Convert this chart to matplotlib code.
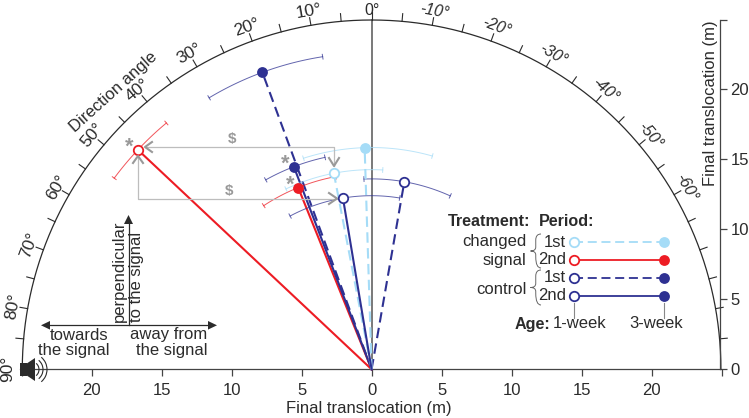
import numpy as np
import matplotlib
matplotlib.use("Agg")
import matplotlib.pyplot as plt
from matplotlib.path import Path
from matplotlib.patches import PathPatch, Polygon, Rectangle, Arc

plt.rcParams['font.family'] = ['Liberation Sans', 'DejaVu Sans']
INK = '#2b2b2b'
GRAY = '#bdbdbd'
MID = '#999999'
LIGHT = '#a5dcf7'
RED = '#ed1c24'
NAVY = '#2e3192'

# Data: direction angle (deg, positive = towards the signal), final translocation (m), arc limits
names = ['c1_3w', 'c1_1w', 's2_1w', 's2_3w', 'c2_3w', 's1_1w', 's1_3w', 'c2_1w']
angles = [20.2, -9.9, 46.8, 22.0, 21.0, 10.9, 1.8, 9.5]
dists = [22.6, 13.6, 22.9, 14.0, 15.5, 14.26, 15.84, 12.4]
arc_hi = [30.9, 2.3, 53.4, 33.4, 29.2, 25.4, 17.9, 28.0]
arc_lo = [8.9, -24.4, 39.8, 10.5, 12.4, -3.2, -15.9, -9.3]
colors = [NAVY, NAVY, RED, RED, NAVY, LIGHT, LIGHT, NAVY]
dashed = [True, True, False, False, False, True, True, False]
filled = [True, False, False, True, True, False, True, False]

deg_labels = [90, 80, 70, 60, 50, 40, 30, 20, 10, 0, -10, -20, -30, -40, -50, -60]
x_ticks = [-25, -20, -15, -10, -5, 0, 5, 10, 15, 20, 25]
x_labels = ['', '20', '15', '10', '5', '0', '5', '10', '15', '20', '']
y_ticks = [0, 5, 10, 15, 20, 24.95]
y_labels = ['0', '5', '10', '15', '20', '']

W, H = 749, 418
X0, Y0, S = 371.6, 369.3, 14.0
R = 24.95

fig = plt.figure(figsize=(W / 100, H / 100), dpi=100)
ax = fig.add_axes([0, 0, 1, 1])
ax.set_xlim(-X0 / S, (W - X0) / S)
ax.set_ylim((Y0 - H) / S, Y0 / S)
ax.patch.set_alpha(0)

def pol(a, r):
    a = np.radians(a)
    return -r * np.sin(a), r * np.cos(a)

# axes
for s in ['top', 'left']:
    ax.spines[s].set_visible(False)
ax.spines['bottom'].set_position(('data', 0))
ax.spines['bottom'].set_bounds(-25.1, 24.9)
ax.spines['right'].set_position(('data', 24.9))
ax.spines['right'].set_bounds(0, 24.95)
for s in ['bottom', 'right']:
    ax.spines[s].set_color('#444444')
    ax.spines[s].set_linewidth(0.9)
ax.set_xticks(x_ticks, x_labels)
ax.yaxis.tick_right()
ax.set_yticks(y_ticks, y_labels)
ax.tick_params(axis='x', direction='out', length=5, width=0.9, color='#444444', pad=5,
               labelsize=12, labelcolor=INK)
ax.tick_params(axis='y', direction='out', length=5, width=0.9, color='#444444', pad=2.5,
               labelsize=12, labelcolor=INK)
ax.plot([0, 0], [0, R], color='#555555', lw=1.1, zorder=1)

# outer arc and angle ticks
t = np.linspace(-90, 90, 361)
ax.plot(*pol(t, R), color=INK, lw=0.9, zorder=2)
for a in range(-85, 90, 5):
    ax.plot(*pol(np.array([a, a]), np.array([R, R + 0.55])), color=INK, lw=0.8, zorder=2)
for a in deg_labels:
    x, y = pol(a, 25.6 if a == 0 else 26.0)
    ax.text(x, y, f'{a}°', rotation=a, rotation_mode='anchor', ha='center', va='center',
            fontsize=11.5 if a <= 0 else 12.5, color=INK, style='italic' if a < 0 else 'normal')

# data
for n, a, r, hi, lo, c, d, f in zip(names, angles, dists, arc_hi, arc_lo, colors, dashed, filled):
    ax.plot(*pol(np.array([0, a]), np.array([0, r])), color=c, lw=1.5,
            ls=(0, (5, 2.6)) if d else '-', zorder=3)
    tt = np.linspace(lo, hi, 60)
    ax.plot(*pol(tt, r), color=c, lw=0.7, alpha=0.75, zorder=3)
    for e in (lo, hi):
        ax.plot(*pol(np.array([e, e]), np.array([r - 0.17, r + 0.17])), color=c, lw=0.7,
                alpha=0.75, zorder=3)
for a, r, c, f in zip(angles, dists, colors, filled):
    x, y = pol(a, r)
    ax.plot([x], [y], 'o', ms=7.8 if f else 6.8, mfc=c if f else 'white', mec=c,
            mew=0 if f else 1.3, zorder=5)

# pixel overlay for the annotations
ov = fig.add_axes([0, 0, 1, 1])
ov.set_xlim(0, W)
ov.set_ylim(H, 0)
ov.axis('off')
ov.patch.set_alpha(0)

def txt(x, y, s, ha='center', va='center', fs=12, **k):
    k.setdefault('color', INK)
    ov.text(x, y, s, ha=ha, va=va, fontsize=fs, **k)

ov.text(113, 92, 'Direction angle', rotation=42, rotation_mode='anchor', ha='center', va='center',
        fontsize=12, color=INK)
ov.text(710, 103, 'Final translocation (m)', rotation=90, ha='center', va='center', fontsize=12, color=INK)
txt(369, 409, 'Final translocation (m)')

# significance brackets
ov.plot([145, 334, 334], [146.5, 146.5, 166], color=GRAY, lw=0.9, zorder=1)
ov.plot([138, 138, 336], [156, 198.5, 198.5], color=GRAY, lw=0.9, zorder=1)
for xs, ys in [([152, 145, 152], [142, 147, 152]), ([329, 334, 339], [158, 166, 158]),
               ([133, 138, 143], [163, 156, 163]), ([329, 337, 329], [193, 198.5, 204])]:
    ov.plot(xs, ys, color=MID, lw=1.5, zorder=1)
for x, y in [(232, 138.5), (229, 190.5)]:
    txt(x, y, '$', fs=11, color=MID, fontweight='bold')
for x, y in [(129, 147), (285, 164), (290, 185)]:
    txt(x, y, '*', fs=15.5, color=MID, fontweight='bold')

# direction cross
ov.plot([46, 212], [325.3, 325.3], color=INK, lw=0.9)
ov.plot([128.5, 128.5], [325.3, 220], color=INK, lw=0.9)
ov.add_patch(Polygon([[41, 325.3], [50, 321], [50, 329.6]], color=INK, lw=0))
ov.add_patch(Polygon([[217, 325.3], [208, 321], [208, 329.6]], color=INK, lw=0))
ov.add_patch(Polygon([[128.5, 215], [124, 224], [133, 224]], color=INK, lw=0))
ov.text(119, 322, 'perpendicular', rotation=90, ha='center', va='bottom', fontsize=12, color=INK)
ov.text(137, 322, 'to the signal', rotation=90, ha='center', va='bottom', fontsize=12, color=INK)
txt(79.5, 335, 'towards')
txt(74, 350.5, 'the signal')
txt(169, 335, 'away from')
txt(172, 350.5, 'the signal')

# speaker
ov.add_patch(Rectangle((20, 363), 7, 12.5, color=INK, lw=0))
ov.add_patch(Polygon([[26, 364], [35, 358], [35, 381], [26, 375]], color=INK, lw=0))
for d in (8, 12, 16):
    ov.add_patch(Arc((31, 369.5), d * 2, d * 2, theta1=-50, theta2=50, color=INK, lw=0.8))

# legend
txt(448, 222, 'Treatment:', ha='left', fontweight='bold', fs=11.6)
txt(539, 222, 'Period:', ha='left', fontweight='bold', fs=11.6)
txt(526.7, 241.5, 'changed', ha='right')
txt(526.7, 260, 'signal', ha='right')
txt(526.7, 290, 'control', ha='right')
leg_y = [242.3, 260, 278, 295.7]
leg_t = ['1st', '2nd', '1st', '2nd']
leg_c = [LIGHT, RED, NAVY, NAVY]
leg_d = [True, False, True, False]
for y, s, c, d in zip(leg_y, leg_t, leg_c, leg_d):
    txt(566, y, s, ha='right')
    ov.plot([573.7, 663.7], [y, y], color=c, lw=1.3, ls=(0, (5, 2.6)) if d else '-', zorder=3)
    ov.plot([573.7], [y], 'o', ms=6.8, mfc='white', mec=c, mew=1.3, zorder=4)
    ov.plot([663.7], [y], 'o', ms=7.8, mfc=c, mec=c, mew=0, zorder=4)

def brace(y0, y1, x0=530.5, x1=541):
    m = (y0 + y1) / 2
    xc = (x0 + x1) / 2
    v = [(x1, y0), (xc, y0), (xc, y0 + 6), (xc, m - 4), (xc, m), (x0, m), (xc, m), (xc, m + 4),
         (xc, m + 6), (xc, y1), (x1, y1)]
    c = [Path.MOVETO, Path.CURVE3, Path.CURVE3, Path.LINETO, Path.CURVE3, Path.CURVE3,
         Path.CURVE3, Path.CURVE3, Path.LINETO, Path.CURVE3, Path.CURVE3]
    ov.add_patch(PathPatch(Path(v, c), fc='none', ec='#666666', lw=0.7))
brace(234, 268)
brace(270, 305)
ov.plot([573.7, 573.7], [303, 318], color='#888888', lw=0.8)
ov.plot([663.7, 663.7], [303, 318], color='#888888', lw=0.8)
txt(550.7, 324, 'Age:', ha='right', fontweight='bold', fs=11.6)
txt(580, 324, '1-week')
txt(656, 324, '3-week')

fig.savefig('out.png', dpi=100)
